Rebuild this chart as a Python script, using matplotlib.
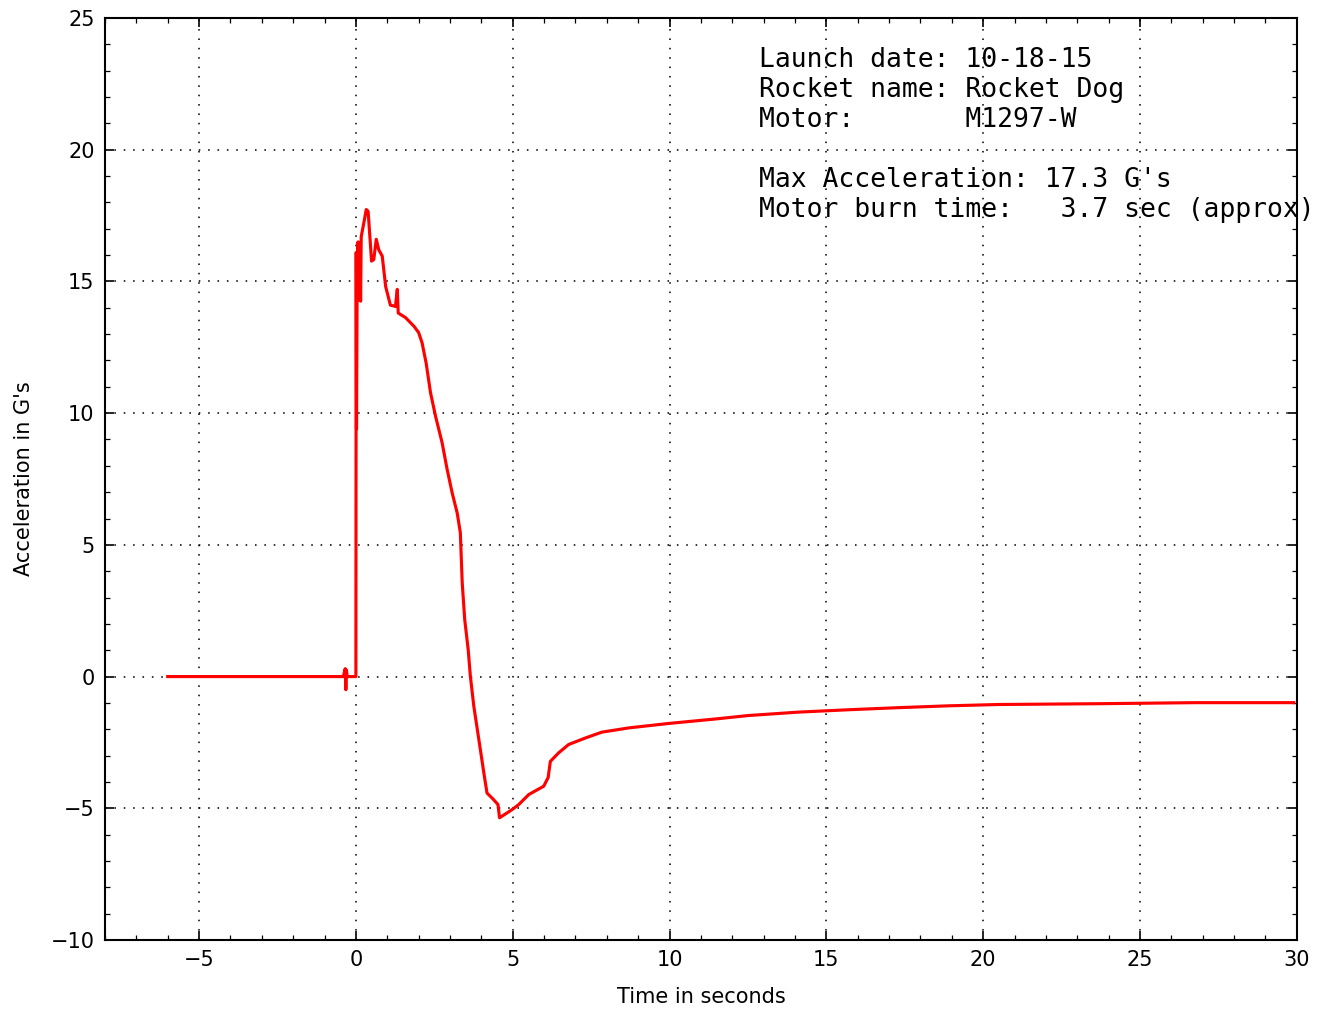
"""
Rocket Dog flight, 10-18-15: accelerometer trace (G's) against time from launch.
Values read off the original plot.
"""
import matplotlib

matplotlib.use("Agg")
import matplotlib.pyplot as plt  # noqa: E402
from matplotlib.ticker import MultipleLocator  # noqa: E402

# time (s) and acceleration (G's) along the trace
TIME = [
    -6.0, -0.40, -0.34, -0.32, -0.30, -0.28, -0.02, 0.0,
    0.01, 0.02, 0.04, 0.07, 0.10, 0.13, 0.15, 0.17, 0.25, 0.33, 0.39,
    0.50, 0.57, 0.65, 0.73, 0.84, 0.95, 1.10, 1.26, 1.32, 1.35, 1.58,
    1.85, 2.00, 2.11, 2.24, 2.38, 2.54, 2.75, 2.91, 3.07, 3.23, 3.33,
    3.39, 3.47, 3.58, 3.65, 3.76, 3.92, 4.08, 4.18, 4.39, 4.53, 4.58,
    4.98, 5.19, 5.51, 5.99, 6.13, 6.20, 6.46, 6.78, 7.32, 7.84, 8.69,
    9.97, 11.46, 12.5, 14.1, 15.7, 17.3, 18.9, 20.5, 23.7, 26.8, 29.9,
]
ACCEL = [
    0.0, 0.0, 0.3, -0.5, 0.25, 0.0, 0.0, 0.0,
    16.1, 9.4, 15.0, 16.5, 14.3, 16.0, 14.25, 16.7, 17.2, 17.73, 17.66,
    15.77, 15.83, 16.6, 16.2, 15.96, 14.8, 14.1, 14.05, 14.7, 13.8, 13.63,
    13.3, 13.06, 12.67, 11.9, 10.77, 9.88, 8.87, 7.86, 6.97, 6.21, 5.46,
    3.56, 2.16, 1.03, 0.01, -1.13, -2.39, -3.66, -4.42, -4.67, -4.86, -5.36,
    -5.05, -4.86, -4.48, -4.16, -3.83, -3.22, -2.9, -2.58, -2.33, -2.11, -1.95,
    -1.78, -1.61, -1.48, -1.35, -1.26, -1.18, -1.11, -1.06, -1.03, -0.99, -0.99,
]

INFO = ("Launch date: 10-18-15\n"
        "Rocket name: Rocket Dog\n"
        "Motor:       M1297-W\n"
        "\n"
        "Max Acceleration: 17.3 G's\n"
        "Motor burn time:   3.7 sec (approx)")

plt.rcParams["font.size"] = 10
plt.rcParams["axes.linewidth"] = 1.0

fig = plt.figure(figsize=(1317 / 150, 1010 / 150), dpi=150)
ax = fig.add_axes([0.0797, 0.0693, 0.905, 0.9129])

ax.plot(TIME, ACCEL, color="red", linewidth=1.5)

ax.set_xlim(-8, 30)
ax.set_ylim(-10, 25)
ax.xaxis.set_major_locator(MultipleLocator(5))
ax.xaxis.set_minor_locator(MultipleLocator(1))
ax.yaxis.set_major_locator(MultipleLocator(5))
ax.yaxis.set_minor_locator(MultipleLocator(1))
ax.tick_params(which="both", direction="in", top=True, right=True,
               color="black")
ax.tick_params(which="major", length=4.5, width=0.8, pad=5)
ax.tick_params(which="minor", length=2.2, width=0.6)
ax.grid(True, which="major", color="black", linestyle=(0, (1, 5)),
        linewidth=0.75)

ax.set_xlabel("Time in seconds", labelpad=8)
ax.set_ylabel("Acceleration in G's", labelpad=8)

ax.text(12.85, 23.9, INFO, family="DejaVu Sans Mono", fontsize=12.7,
        va="top", ha="left", linespacing=1.2)

fig.savefig("out.png", dpi=150, facecolor="white")
